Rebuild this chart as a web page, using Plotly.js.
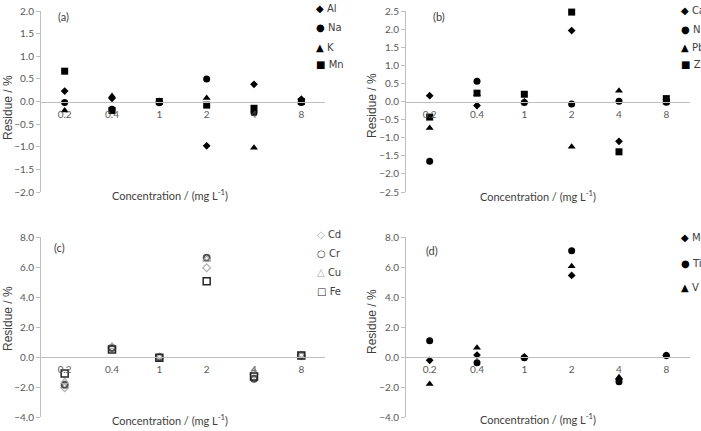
<!DOCTYPE html>
<html>
<head>
<meta charset="utf-8">
<script src="https://cdn.plot.ly/plotly-3.0.1.min.js"></script>
<style>
  html, body { margin: 0; padding: 0; background: #fff; }
  #chart { width: 701px; height: 431px; }
</style>
</head>
<body>
<div id="chart"></div>
<script>
// Standard concentrations (category axis)
const categories = ['0.2', '0.4', '1', '2', '4', '8'];

// (a) residues, %
const alResidue = [0.23, 0.07, 0.00, -0.98, 0.38, 0.05];
const naResidue = [-0.02, -0.17, -0.03, 0.50, -0.25, -0.02];
const kResidue  = [-0.20, 0.12, 0.00, 0.08, -1.02, 0.00];
const mnResidue = [0.67, -0.20, 0.00, -0.08, -0.15, 0.00];

// (b) residues, %
const caResidue = [0.16, -0.11, -0.02, 1.96, -1.10, 0.05];
const niResidue = [-1.65, 0.56, -0.03, -0.07, 0.01, -0.02];
const pbResidue = [-0.73, 0.20, 0.00, -1.25, 0.30, -0.03];
const znResidue = [-0.43, 0.23, 0.20, 2.47, -1.39, 0.08];

// (c) residues, %
const cdResidue = [-2.05, 0.65, 0.00, 5.95, -1.15, 0.08];
const crResidue = [-1.85, 0.60, -0.02, 6.62, -1.45, 0.10];
const cuResidue = [-1.65, 0.70, 0.00, 6.50, -1.00, 0.12];
const feResidue = [-1.10, 0.50, -0.05, 5.05, -1.30, 0.10];

// (d) residues, %
const mgResidue = [-0.22, 0.13, 0.00, 5.44, -1.50, 0.10];
const tiResidue = [1.09, -0.38, -0.05, 7.08, -1.65, 0.10];
const vResidue  = [-1.80, 0.62, 0.00, 6.05, -1.35, 0.05];

const panelLabels = ['(a)', '(b)', '(c)', '(d)'];
const yRanges = [[-2, 2], [-2.5, 2.5], [-4, 8], [-4, 8]];
const yTickSteps = [0.5, 0.5, 2, 2];

const W = 701, H = 431;
const px = v => v / W;
const py = v => 1 - v / H;

const GREY = '#bfbfbf';
const TXT = '#595959';
const FONT = 'Lato, "Open Sans", sans-serif';

// panel boxes in pixels: [left, right, top, bottom]
const boxes = [
  [41, 325, 11, 192],
  [406, 690, 11, 192],
  [41, 325, 237, 417],
  [406, 690, 237, 417]
];

const solid = { color: '#000', size: 7 };
const solidDiamond = { color: '#000', size: 6 };
function series(name, y, symbol, axis, marker) {
  return {
    type: 'scatter', mode: 'markers', name: name,
    x: categories, y: y,
    xaxis: 'x' + (axis === 1 ? '' : axis), yaxis: 'y' + (axis === 1 ? '' : axis),
    cliponaxis: false, showlegend: false,
    marker: Object.assign({ symbol: symbol }, marker || solid)
  };
}

// open symbols are stroked with marker.color
const openMarker = (color, w, size) => ({ color: color, size: size, line: { color: color, width: w } });

const data = [
  series('Al', alResidue, 'diamond', 1, solidDiamond),
  series('Na', naResidue, 'circle', 1),
  series('K', kResidue, 'triangle-up', 1),
  series('Mn', mnResidue, 'square', 1),
  series('Ca', caResidue, 'diamond', 2, solidDiamond),
  series('Ni', niResidue, 'circle', 2),
  series('Pb', pbResidue, 'triangle-up', 2),
  series('Zn', znResidue, 'square', 2),
  series('Cd', cdResidue, 'diamond-open', 3, openMarker('#b0b0b0', 1.2, 6)),
  series('Cr', crResidue, 'circle-open', 3, openMarker('#505050', 2, 6)),
  series('Cu', cuResidue, 'triangle-up-open', 3, openMarker('#a8a8a8', 1.2, 7)),
  series('Fe', feResidue, 'square-open', 3, openMarker('#262626', 1.5, 7)),
  series('Mg', mgResidue, 'diamond', 4, solidDiamond),
  series('Ti', tiResidue, 'circle', 4),
  series('V', vResidue, 'triangle-up', 4)
];

const layout = {
  width: W, height: H,
  margin: { l: 0, r: 0, t: 0, b: 0, autoexpand: false },
  paper_bgcolor: '#fff', plot_bgcolor: '#fff',
  showlegend: false,
  font: { family: FONT, color: TXT, size: 10 },
  annotations: []
};

boxes.forEach((b, i) => {
  const n = i + 1;
  const sfx = n === 1 ? '' : String(n);
  const yDom = [py(b[3]), py(b[2])];
  const r = yRanges[i];
  // category axis drawn along the zero line
  const zeroPos = yDom[0] + (yDom[1] - yDom[0]) * (0 - r[0]) / (r[1] - r[0]);
  layout['xaxis' + sfx] = {
    domain: [px(b[0]), px(b[1])],
    anchor: 'free', position: zeroPos,
    type: 'category', range: [-0.5, 5.5],
    showline: true, linecolor: GREY, linewidth: 1,
    showgrid: false, zeroline: false,
    ticks: 'outside', ticklen: 3, tickcolor: 'rgba(0,0,0,0)',
    tickfont: { family: FONT, size: 10, color: TXT },
    fixedrange: true
  };
  layout['yaxis' + sfx] = {
    domain: yDom, anchor: 'x' + sfx,
    range: r, dtick: yTickSteps[i], tick0: 0, tickformat: '.1f',
    showline: true, linecolor: GREY, linewidth: 1,
    showgrid: false, zeroline: false,
    ticks: 'outside', ticklen: 4, tickcolor: GREY,
    tickfont: { family: FONT, size: 10, color: TXT },
    fixedrange: true
  };
});

const ann = (text, x, y, opts) => Object.assign({
  text: text, x: px(x), y: py(y), xref: 'paper', yref: 'paper',
  showarrow: false, xanchor: 'center', yanchor: 'middle',
  font: { family: FONT, size: 10, color: '#404040' }
}, opts || {});

// panel letters
[[63, 17], [439, 17], [59, 247], [432, 250]].forEach((p, i) => {
  layout.annotations.push(ann(panelLabels[i], p[0], p[1], { font: { family: FONT, size: 11, color: '#404040' } }));
});

// axis titles
const xTitle = 'Concentration / (mg L<sup>-1</sup>)';
[[170, 194], [538, 195], [170, 419], [538, 418]].forEach(p => {
  layout.annotations.push(ann(xTitle, p[0], p[1], { font: { family: FONT, size: 11, color: '#404040' } }));
});
[[8, 108], [372, 106], [8, 319], [372, 322]].forEach(p => {
  layout.annotations.push(ann('Residue / %', p[0], p[1], {
    textangle: -90, font: { family: '"Liberation Sans", Arial, sans-serif', size: 12, color: '#404040' }
  }));
});

// legends: symbol glyph + element name
function legendItems(items, x, ys) {
  items.forEach((it, k) => {
    layout.annotations.push(ann(
      '<span style="color:' + it[2] + '">' + it[1] + '</span> ' + it[0],
      x, ys[k], { xanchor: 'left', font: { family: '"DejaVu Sans", sans-serif', size: 10, color: '#404040' } }
    ));
  });
}
legendItems([['Al', '◆', '#000'], ['Na', '●', '#000'], ['K', '▲', '#000'], ['Mn', '■', '#000']], 314, [9, 28, 47, 64]);
legendItems([['Ca', '◆', '#000'], ['Ni', '●', '#000'], ['Pb', '▲', '#000'], ['Zn', '■', '#000']], 679, [10, 29, 47, 64]);
legendItems([['Cd', '◇', '#b0b0b0'], ['Cr', '○', '#404040'], ['Cu', '△', '#a8a8a8'], ['Fe', '□', '#262626']], 315, [235, 253, 272, 291]);
legendItems([['Mg', '◆', '#000'], ['Ti', '●', '#000'], ['V', '▲', '#000']], 679, [238, 263, 287]);

Plotly.newPlot('chart', data, layout, { staticPlot: true, displayModeBar: false });
</script>
</body>
</html>
